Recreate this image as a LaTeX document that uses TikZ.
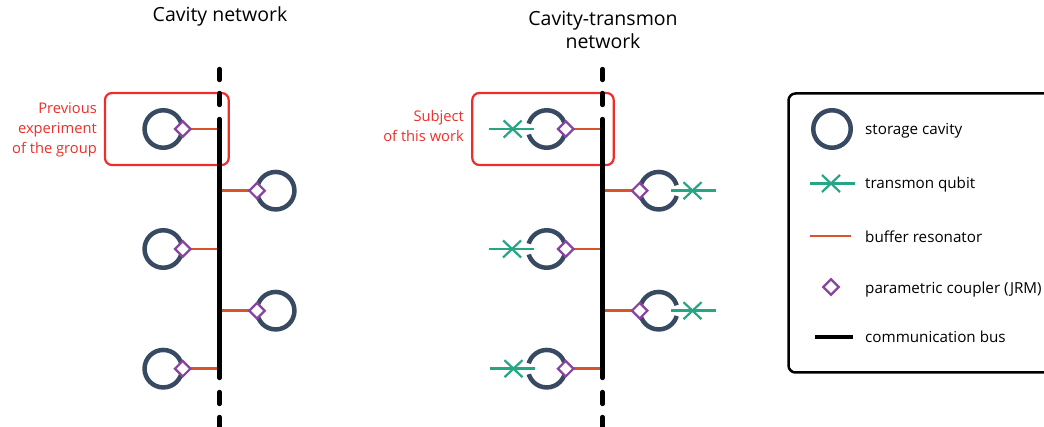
\documentclass[tikz,border=0pt]{standalone}
\usepackage{fontspec}
\setmainfont{Open Sans}
\usetikzlibrary{shapes.geometric,shapes.misc}
\definecolor{cavity}{RGB}{56,74,98}
\definecolor{transmon}{RGB}{38,166,133}
\definecolor{buffer}{RGB}{218,84,40}
\definecolor{coupler}{RGB}{136,68,160}
\definecolor{boxred}{RGB}{238,46,42}
\newcommand{\Titletext}{\fontsize{19.5}{23}\selectfont}
\newcommand{\Redtext}{\fontsize{14.7}{20}\selectfont}
\newcommand{\Legendtext}{\fontsize{15.2}{18}\selectfont}
\tikzstyle{cavitynode}=[circle,draw=cavity,line width=4.5pt,minimum size=37.5pt,inner sep=0pt,outer sep=0pt]
\tikzstyle{gapleft}=[dash pattern=on 53.4pt off 11pt on 53.4pt off 0pt]
\tikzstyle{gapright}=[dash pattern=on 0pt off 5.5pt on 106.8pt off 5.5pt]
\tikzstyle{couplernode}=[diamond,draw=coupler,fill=white,line width=2.2pt,minimum size=15.5pt,inner sep=0pt,outer sep=0pt]
\tikzstyle{qubit}=[cross out,draw=transmon,line width=2.2pt,minimum width=18pt,minimum height=17pt,inner sep=0pt,outer sep=0pt]
\tikzstyle{qubitline}=[line width=2.4pt,color=transmon]
\tikzstyle{bufferline}=[line width=2.4pt,color=buffer]
\tikzstyle{busline}=[line width=4.3pt,line cap=round]
\tikzstyle{redbox}=[line width=2.2pt,draw=boxred,rounded corners=7pt]
\tikzstyle{redlabel}=[text=boxred,align=right,anchor=east,inner sep=0pt,font=\Redtext]
\tikzstyle{titlelabel}=[align=center,inner sep=0pt,font=\Titletext]
\tikzstyle{legendlabel}=[anchor=west,inner sep=0pt,font=\Legendtext]

\begin{document}
\begin{tikzpicture}[x=1pt,y=-1pt]
  \useasboundingbox (0,0) rectangle (1044,427);

  %% Titles
  \draw (220,16.5) node[titlelabel] (TitleL) {Cavity network};
  \draw (603,30) node[titlelabel] (TitleR) {Cavity-transmon\\network};

  %% Red boxes
  \draw[redbox] (105,93) rectangle (228.7,165);
  \draw[redbox] (472.3,93) rectangle (613.7,165);
  \draw (97,129.5) node[redlabel] (NoteL) {Previous\\experiment\\of the group};
  \draw (464,126) node[redlabel] (NoteR) {Subject\\of this work};

  %% Cavity network
  \coordinate (BL0) at (219.5,69);
  \coordinate (BL1) at (219.5,80);
  \coordinate (BL2) at (219.5,93);
  \coordinate (BL3) at (219.5,105);
  \coordinate (BL4) at (219.5,119);
  \coordinate (BL5) at (219.5,378);
  \coordinate (BL6) at (219.5,392);
  \coordinate (BL7) at (219.5,404);
  \coordinate (BL8) at (219.5,417);
  \coordinate (BL9) at (219.5,432);

  \draw (163.3,129) node[cavitynode] (C1) {};
  \draw (275.7,190.7) node[cavitynode] (C2) {};
  \draw (163.3,249) node[cavitynode] (C3) {};
  \draw (275.7,310.7) node[cavitynode] (C4) {};
  \draw (163.3,368.7) node[cavitynode] (C5) {};

  \coordinate (J1) at (182.7,129);
  \coordinate (J2) at (257,190.7);
  \coordinate (J3) at (182.7,249);
  \coordinate (J4) at (257,310.7);
  \coordinate (J5) at (182.7,368.7);

  \draw[bufferline] (J1) -- (J1 -| BL0);
  \draw[bufferline] (J2) -- (J2 -| BL0);
  \draw[bufferline] (J3) -- (J3 -| BL0);
  \draw[bufferline] (J4) -- (J4 -| BL0);
  \draw[bufferline] (J5) -- (J5 -| BL0);

  \draw (J1) node[couplernode] (K1) {};
  \draw (J2) node[couplernode] (K2) {};
  \draw (J3) node[couplernode] (K3) {};
  \draw (J4) node[couplernode] (K4) {};
  \draw (J5) node[couplernode] (K5) {};

  \draw[busline] (BL0) -- (BL1);
  \draw[busline] (BL2) -- (BL3);
  \draw[busline] (BL4) -- (BL5);
  \draw[busline] (BL6) -- (BL7);
  \draw[busline] (BL8) -- (BL9);

  %% Cavity-transmon network
  \coordinate (BR0) at (602.5,69);
  \coordinate (BR1) at (602.5,80);
  \coordinate (BR2) at (602.5,93);
  \coordinate (BR3) at (602.5,105);
  \coordinate (BR4) at (602.5,119);
  \coordinate (BR5) at (602.5,378);
  \coordinate (BR6) at (602.5,392);
  \coordinate (BR7) at (602.5,404);
  \coordinate (BR8) at (602.5,417);
  \coordinate (BR9) at (602.5,432);

  \draw (546.7,129) node[cavitynode,gapleft] (D1) {};
  \draw (658.7,190.7) node[cavitynode,gapright] (D2) {};
  \draw (546.7,249) node[cavitynode,gapleft] (D3) {};
  \draw (658.7,310.7) node[cavitynode,gapright] (D4) {};
  \draw (546.7,368.7) node[cavitynode,gapleft] (D5) {};

  \coordinate (M1) at (565.7,129);
  \coordinate (M2) at (639.7,190.7);
  \coordinate (M3) at (565.7,249);
  \coordinate (M4) at (639.7,310.7);
  \coordinate (M5) at (565.7,368.7);

  \draw[bufferline] (M1) -- (M1 -| BR0);
  \draw[bufferline] (M2) -- (M2 -| BR0);
  \draw[bufferline] (M3) -- (M3 -| BR0);
  \draw[bufferline] (M4) -- (M4 -| BR0);
  \draw[bufferline] (M5) -- (M5 -| BR0);

  \draw (M1) node[couplernode] (L1) {};
  \draw (M2) node[couplernode] (L2) {};
  \draw (M3) node[couplernode] (L3) {};
  \draw (M4) node[couplernode] (L4) {};
  \draw (M5) node[couplernode] (L5) {};

  \coordinate (Q1a) at (489,129);
  \coordinate (Q1b) at (534,129);
  \coordinate (Q2a) at (671,190.7);
  \coordinate (Q2b) at (716,190.7);
  \coordinate (Q3a) at (489,249);
  \coordinate (Q3b) at (534,249);
  \coordinate (Q4a) at (671,310.7);
  \coordinate (Q4b) at (716,310.7);
  \coordinate (Q5a) at (490,368.7);
  \coordinate (Q5b) at (535,368.7);
  \draw[qubitline] (Q1a) -- (Q1b);
  \draw[qubitline] (Q2a) -- (Q2b);
  \draw[qubitline] (Q3a) -- (Q3b);
  \draw[qubitline] (Q4a) -- (Q4b);
  \draw[qubitline] (Q5a) -- (Q5b);
  \draw (512.7,129) node[qubit] (T1) {};
  \draw (692.5,190.7) node[qubit] (T2) {};
  \draw (512,249) node[qubit] (T3) {};
  \draw (692.5,310.7) node[qubit] (T4) {};
  \draw (513.5,368.7) node[qubit] (T5) {};

  \draw[busline] (BR0) -- (BR1);
  \draw[busline] (BR2) -- (BR3);
  \draw[busline] (BR4) -- (BR5);
  \draw[busline] (BR6) -- (BR7);
  \draw[busline] (BR8) -- (BR9);

  %% Legend things
  \draw[line width=2.5pt,rounded corners=7pt] (1046,93.5) -- (788.5,93.5) -- (788.5,372.5) -- (1046,372.5);

  \draw (832,129) node[cavitynode] (LegCavity) {};
  \draw (865,131) node[legendlabel] (TextCavity) {storage cavity};

  \coordinate (LegQa) at (809.5,183.5);
  \coordinate (LegQb) at (854.5,183.5);
  \draw[qubitline] (LegQa) -- (LegQb);
  \draw (831,183.5) node[qubit] (LegQubit) {};
  \draw (865,184.5) node[legendlabel] (TextQubit) {transmon qubit};

  \coordinate (LegBa) at (809.5,236);
  \coordinate (LegBb) at (851,236);
  \draw[bufferline] (LegBa) -- (LegBb);
  \draw (865,236.5) node[legendlabel] (TextBuffer) {buffer resonator};

  \draw (831,287) node[couplernode] (LegCoupler) {};
  \draw (865,289.5) node[legendlabel] (TextCoupler) {parametric coupler (JRM)};

  \coordinate (LegBusa) at (815,337);
  \coordinate (LegBusb) at (853,337);
  \draw[line width=4.3pt] (LegBusa) -- (LegBusb);
  \draw (865,337) node[legendlabel] (TextBus) {communication bus};
\end{tikzpicture}
\end{document}
